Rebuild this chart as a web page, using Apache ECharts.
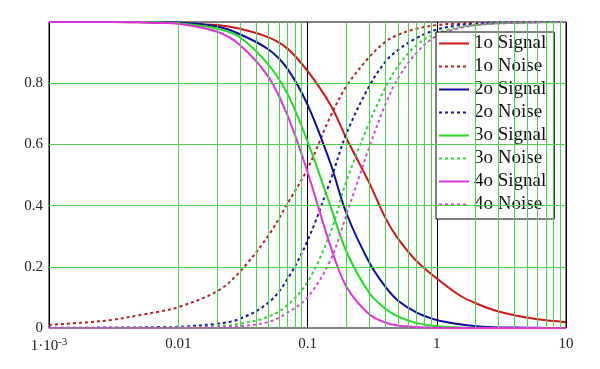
<!DOCTYPE html>
<html>
<head>
<meta charset="utf-8">
<script src="https://cdn.jsdelivr.net/npm/echarts@6/dist/echarts.min.js"></script>
<style>html,body{margin:0;padding:0;background:#fff;}#c{width:600px;height:369px;}</style>
</head>
<body>
<div id="c"></div>
<script>
// ---- data ----
const xs = [0.001, 0.002, 0.003, 0.005, 0.007, 0.01, 0.02, 0.03, 0.05, 0.07, 0.1, 0.15, 0.2, 0.3, 0.4, 0.5, 0.7, 1, 1.5, 2, 3, 5, 7, 10];

const sig1 = [1.0, 1.0, 1.0, 0.999, 0.998, 0.996, 0.99, 0.978, 0.95, 0.913, 0.84, 0.73, 0.62, 0.475, 0.36, 0.293, 0.218, 0.162, 0.107, 0.081, 0.054, 0.034, 0.025, 0.019];
const noi1 = [0.01, 0.019, 0.026, 0.042, 0.053, 0.068, 0.12, 0.184, 0.303, 0.407, 0.52, 0.69, 0.79, 0.885, 0.935, 0.958, 0.978, 0.99, 0.995, 0.997, 0.998, 0.999, 1.0, 1.0];
const sig2 = [1.0, 1.0, 1.0, 1.0, 0.999, 0.998, 0.985, 0.96, 0.91, 0.847, 0.73, 0.54, 0.375, 0.215, 0.135, 0.09, 0.05, 0.026, 0.012, 0.006, 0.002, 0.001, 0.0, 0.0];
const noi2 = [0.001, 0.001, 0.002, 0.002, 0.003, 0.004, 0.014, 0.03, 0.083, 0.16, 0.285, 0.48, 0.635, 0.79, 0.87, 0.908, 0.948, 0.975, 0.99, 0.994, 0.997, 0.999, 1.0, 1.0];
const sig3 = [1.0, 1.0, 1.0, 1.0, 0.999, 0.996, 0.978, 0.95, 0.86, 0.765, 0.61, 0.4, 0.25, 0.115, 0.063, 0.038, 0.016, 0.006, 0.002, 0.001, 0.0, 0.0, 0.0, 0.0];
const noi3 = [0.0, 0.0, 0.0, 0.0, 0.001, 0.002, 0.006, 0.014, 0.037, 0.075, 0.15, 0.31, 0.48, 0.67, 0.785, 0.855, 0.925, 0.963, 0.983, 0.99, 0.996, 0.998, 0.999, 1.0];
const sig4 = [1.0, 1.0, 1.0, 0.999, 0.997, 0.994, 0.968, 0.925, 0.82, 0.695, 0.51, 0.27, 0.135, 0.045, 0.018, 0.008, 0.003, 0.001, 0.0, 0.0, 0.0, 0.0, 0.0, 0.0];
const noi4 = [0.0, 0.0, 0.0, 0.0, 0.0, 0.001, 0.003, 0.006, 0.02, 0.05, 0.1, 0.22, 0.37, 0.59, 0.73, 0.815, 0.9, 0.955, 0.98, 0.99, 0.995, 0.998, 0.999, 1.0];

const seriesNames = ['1o Signal', '1o Noise', '2o Signal', '2o Noise', '3o Signal', '3o Noise', '4o Signal', '4o Noise'];
const seriesValues = [sig1, noi1, sig2, noi2, sig3, noi3, sig4, noi4];

const decades = [0.001, 0.01, 0.1, 1];
const minorMultipliers = [2, 3, 4, 5, 6, 7, 8, 9];
const yGridValues = [0.2, 0.4, 0.6, 0.8];
const xTickLabels = {'-3': '1·10{sup|-3}', '-2': '0.01', '-1': '0.1', '0': '1', '1': '10'};

// ---- styles ----
const colors = ['#d01418', '#b0222a', '#0c0c9c', '#16169a', '#20dc20', '#3ccf3c', '#dd33dd', '#cc4fcc'];
const serif = 'Liberation Serif';
const gridGreen = '#4cd24c';

const chart = echarts.init(document.getElementById('c'), null, {renderer: 'canvas'});

const gridLines = [];
decades.forEach(d => minorMultipliers.forEach(m => gridLines.push({xAxis: d * m})));
yGridValues.forEach(v => gridLines.push({yAxis: v}));

const series = [{
  name: '_grid',
  type: 'line',
  data: [[1, 0]],
  showSymbol: false,
  symbol: 'none',
  lineStyle: {opacity: 0},
  silent: true,
  z: 1,
  markLine: {
    silent: true,
    symbol: ['none', 'none'],
    label: {show: false},
    lineStyle: {color: gridGreen, width: 1, type: 'solid'},
    emphasis: {disabled: true},
    animation: false,
    data: gridLines
  }
}];

seriesNames.forEach((n, i) => {
  const dashed = i % 2 === 1;
  series.push({
    name: n,
    type: 'line',
    data: xs.map((x, k) => [x, seriesValues[i][k]]),
    symbol: 'none',
    showSymbol: false,
    smooth: 0.35,
    color: colors[i],
    lineStyle: {color: colors[i], width: 2, type: dashed ? [3, 3] : 'solid'},
    z: 3
  });
});

chart.setOption({
  animation: false,
  backgroundColor: '#fff',
  grid: {left: 49, right: 34, top: 22, bottom: 41, show: true, borderColor: '#000', borderWidth: 1, backgroundColor: '#fff'},
  xAxis: {
    type: 'log', logBase: 10, min: 0.001, max: 10,
    axisLine: {show: true, lineStyle: {color: '#888', width: 1}},
    axisTick: {show: false},
    splitLine: {show: true, lineStyle: {color: '#000', width: 1}},
    axisLabel: {
      margin: 9,
      fontFamily: serif, fontSize: 15, color: '#222',
      formatter: v => xTickLabels[String(Math.round(Math.log10(v)))] || '',
      rich: {sup: {fontFamily: serif, fontSize: 11, color: '#222', verticalAlign: 'top', padding: [0, 0, 8, 0]}}
    }
  },
  yAxis: {
    type: 'value', min: 0, max: 1, interval: 0.2,
    axisLine: {show: true, lineStyle: {color: '#000', width: 1}},
    axisTick: {show: false},
    splitLine: {show: false},
    axisLabel: {
      margin: 6, fontFamily: serif, fontSize: 15, color: '#222',
      formatter: v => (v >= 0.999 ? '' : String(+v.toFixed(1)))
    }
  },
  legend: {
    data: seriesNames,
    orient: 'vertical',
    left: 436, top: 32,
    padding: [2, 8, 5, 2],
    itemWidth: 30, itemHeight: 14, itemGap: 4,
    itemStyle: {opacity: 0, borderWidth: 0},
    backgroundColor: '#fff', borderColor: '#000', borderWidth: 1, borderRadius: 0,
    textStyle: {fontFamily: serif, fontSize: 19, color: '#111'},
    selectedMode: false
  },
  series: series
});
</script>
</body>
</html>
